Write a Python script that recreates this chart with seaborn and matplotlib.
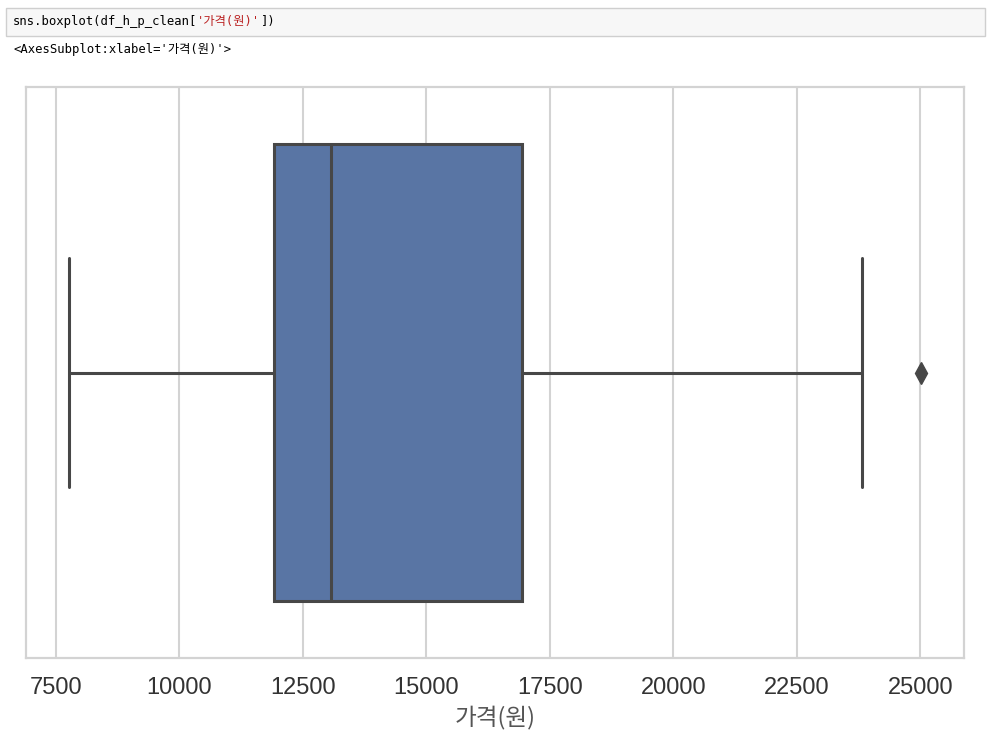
import numpy as np
import pandas as pd
import matplotlib
matplotlib.use('Agg')
import matplotlib.pyplot as plt
from matplotlib.text import Annotation
import seaborn as sns

# price values (원): min, Q1, median, Q3, upper whisker, outlier
prices = [7760, 9900, 11920, 12500, 13080, 15000, 16930, 23820, 25020]
col_name = '가격(원)'
code_parts = ["sns.boxplot(df_h_p_clean[", "'가격(원)'", "])"]
out_text = "<AxesSubplot:xlabel='가격(원)'>"

df_h_p_clean = pd.DataFrame({col_name: prices})

sns.set_theme(style='whitegrid')
plt.rcParams['font.family'] = ['Liberation Sans', 'Noto Sans CJK KR', 'DejaVu Sans']

fig = plt.figure(figsize=(9.9, 7.4), dpi=100)
ax = fig.add_axes([26 / 990, 1 - 658 / 740, (964 - 26) / 990, (658 - 87) / 740])

line_c = '#474747'
sns.boxplot(x=df_h_p_clean[col_name], ax=ax, color='#4c72b0', saturation=0.75,
            linecolor=line_c, linewidth=2.2, width=0.8,
            flierprops=dict(marker='d', markerfacecolor=line_c, markeredgecolor=line_c,
                            markersize=11))

ax.set_xticks([7500, 10000, 12500, 15000, 17500, 20000, 22500, 25000])
ax.tick_params(axis='x', labelsize=17, pad=14, labelcolor='#333333', length=0)
ax.set_xlabel(col_name, fontsize=17, color='#555555', labelpad=4,
              family=['Noto Sans CJK KR', 'DejaVu Sans'])
ax.grid(True, axis='x', color='#d3d3d3', linewidth=1.5)
for s in ax.spines.values():
    s.set_color('#d3d3d3')
    s.set_linewidth(1.6)

# notebook cell header
fig.patches.append(plt.Rectangle((6 / 990, 1 - 36 / 740), (985 - 6) / 990, 28 / 740,
                                 transform=fig.transFigure, facecolor='#f7f7f7',
                                 edgecolor='#cfcfcf', linewidth=1, zorder=-1))
mono = ['DejaVu Sans Mono', 'Noto Sans CJK KR']
fs = 8.8
t1 = fig.text(13 / 990, 1 - 22 / 740, code_parts[0], fontsize=fs, family=mono,
              color='black', va='center')
t2 = fig.add_artist(Annotation(code_parts[1], xy=(1, 0.5), xycoords=t1, va='center',
                               ha='left', fontsize=fs, family=mono, color='#ba2121'))
fig.add_artist(Annotation(code_parts[2], xy=(1, 0.5), xycoords=t2, va='center',
                          ha='left', fontsize=fs, family=mono, color='black'))
fig.text(13 / 990, 1 - 50 / 740, out_text, fontsize=fs, family=mono,
         color='black', va='center')

plt.savefig('out.png', dpi=100)
